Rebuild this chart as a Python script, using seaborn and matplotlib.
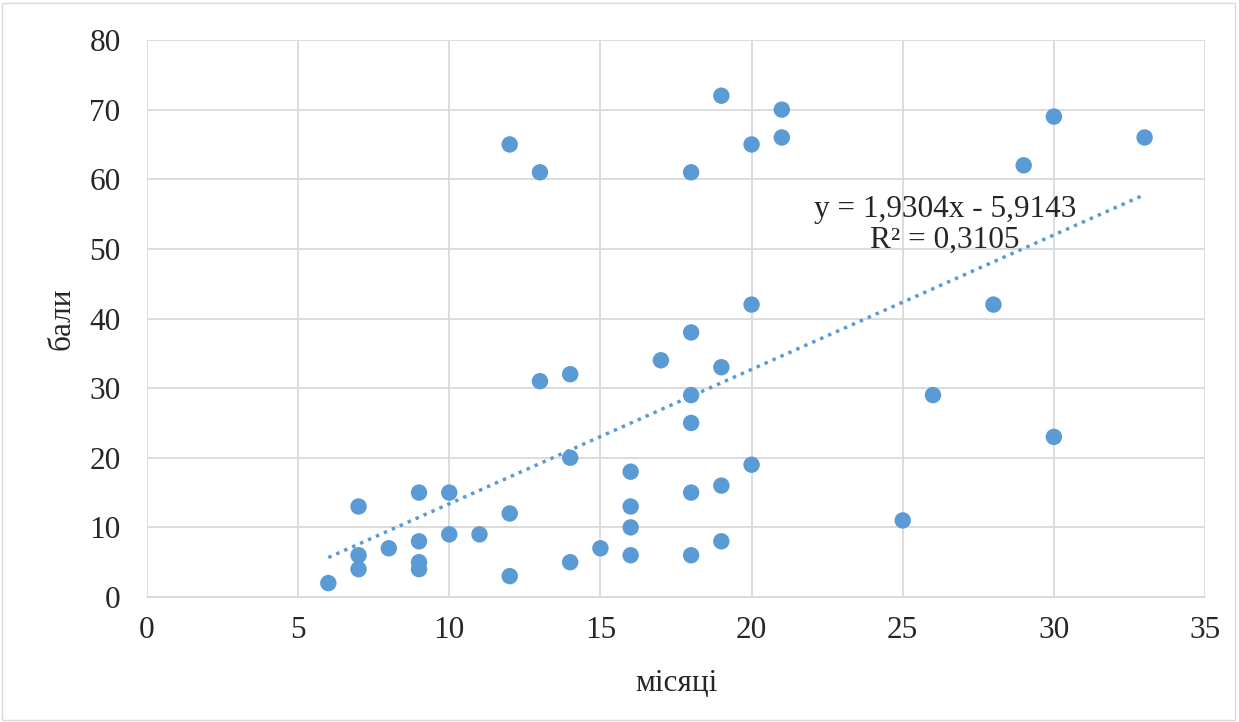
import matplotlib
matplotlib.use("Agg")
import matplotlib.pyplot as plt
import seaborn as sns
import numpy as np
import pandas as pd
from matplotlib.patches import Rectangle

# months / points
months = [6, 7, 7, 7, 8, 9, 9, 9, 9, 10, 10, 11, 12, 12, 12, 13, 13, 14, 14, 14,
          15, 16, 16, 16, 16, 17, 18, 18, 18, 18, 18, 18, 19, 19, 19, 19, 20, 20, 20,
          21, 21, 25, 26, 28, 29, 30, 30, 33]
points = [2, 13, 6, 4, 7, 15, 8, 5, 4, 15, 9, 9, 65, 12, 3, 61, 31, 32, 20, 5,
          7, 18, 13, 10, 6, 34, 61, 38, 29, 25, 15, 6, 72, 33, 16, 8, 65, 42, 19,
          70, 66, 11, 29, 42, 62, 69, 23, 66]
slope = 1.9304
intercept = -5.9143
r2 = 0.3105

df = pd.DataFrame({'months': months, 'points': points})

sns.set_style('white')
plt.rcParams['font.family'] = ['Liberation Serif', 'DejaVu Serif']

fig = plt.figure(figsize=(12.39, 7.22), dpi=100)
ax = fig.add_axes([0.1186, 0.1731, 0.854, 0.7715])

grid_c = '#d9d9d9'
ax.set_axisbelow(True)
ax.grid(True, color=grid_c, linewidth=1.3)

sns.scatterplot(data=df, x='months', y='points', color='#5b9bd5', s=140,
                edgecolor='none', ax=ax, zorder=3)

xs = np.array([min(months), max(months)])
ax.plot(xs, slope * xs + intercept, linestyle=(0, (1, 1.5)), color='#5b9bd5',
        linewidth=2.5, zorder=2)

ax.text(26.4, 53.4, 'y = 1,9304x - 5,9143\nR² = 0,3105', ha='center', va='center',
        fontsize=22.5, linespacing=1.1, zorder=4)

ax.set_xlim(0, 35)
ax.set_ylim(0, 80)
ax.set_xticks(range(0, 36, 5))
ax.set_yticks(range(0, 81, 10))
ax.tick_params(axis='y', labelsize=22.5, length=0, pad=19)
ax.tick_params(axis='x', labelsize=22.5, length=0, pad=14)
ax.set_xlabel('місяці', fontsize=22.5, labelpad=17)
ax.set_ylabel('бали', fontsize=22.5, labelpad=9)
for side in ['top', 'right', 'left']:
    ax.spines[side].set_visible(False)
ax.spines['bottom'].set_color(grid_c)
ax.spines['bottom'].set_linewidth(1.3)

fig.patches.append(Rectangle((0.002, 0.003), 0.995, 0.993, transform=fig.transFigure,
                             fill=False, edgecolor=grid_c, linewidth=1))

fig.savefig('out.png', dpi=100)
